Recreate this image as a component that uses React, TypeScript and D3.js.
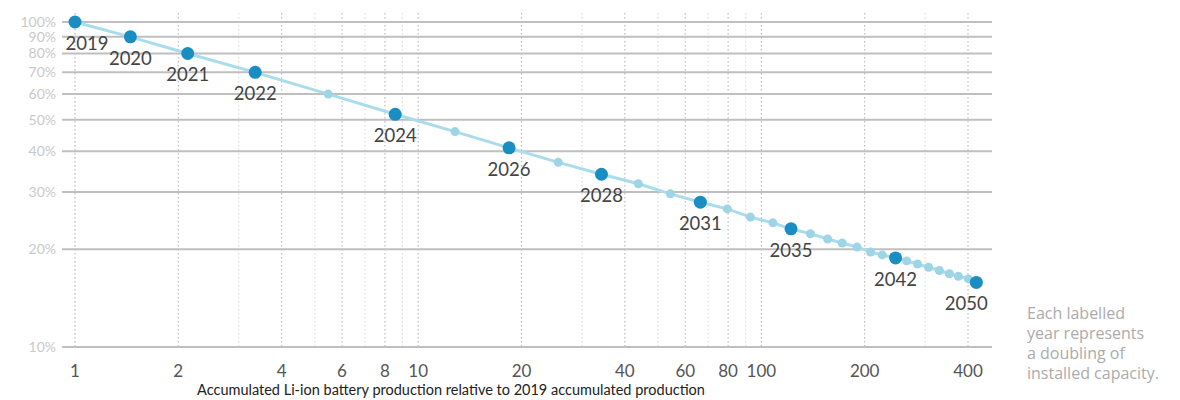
import React, { useRef, useEffect } from 'react';
import * as d3 from 'd3';

// years along the curve
const years = [
  2019, 2020, 2021, 2022, 2023, 2024, 2025, 2026, 2027, 2028, 2029, 2030, 2031, 2032, 2033, 2034,
  2035, 2036, 2037, 2038, 2039, 2040, 2041, 2042, 2043, 2044, 2045, 2046, 2047, 2048, 2049, 2050
];
// accumulated production relative to 2019
const production = [
  1, 1.45, 2.13, 3.35, 5.47, 8.57, 12.8, 18.4, 25.6, 34.2, 43.8, 54.3, 66.4, 79.6, 92.9, 108,
  122, 139, 156, 172, 190, 208, 225, 246, 265, 285, 307, 330, 353, 375, 401, 423
];
// cost share relative to 2019
const share = [
  1.0, 0.9, 0.8, 0.7, 0.6, 0.52, 0.46, 0.41, 0.37, 0.34, 0.318, 0.296, 0.279, 0.266, 0.251, 0.241,
  0.231, 0.223, 0.215, 0.209, 0.203, 0.196, 0.192, 0.188, 0.184, 0.18, 0.176, 0.172, 0.168, 0.165, 0.162, 0.158
];
const labelledYears = [2019, 2020, 2021, 2022, 2024, 2026, 2028, 2031, 2035, 2042, 2050];

const yTicks = [0.1, 0.2, 0.3, 0.4, 0.5, 0.6, 0.7, 0.8, 0.9, 1.0];
const xGrid = [1, 2, 3, 4, 5, 6, 7, 8, 9, 10, 20, 30, 40, 50, 60, 70, 80, 90, 100, 200, 300, 400];
const xTickLabels = [1, 2, 4, 6, 8, 10, 20, 40, 60, 80, 100, 200, 400];
const noteLines = ["Each labelled", "year represents", "a doubling of", "installed capacity."];
const axisTitle = "Accumulated Li-ion battery production relative to 2019 accumulated production";

const App: React.FC = () => {
  const svgRef = useRef<SVGSVGElement | null>(null);

  useEffect(() => {
    const svg = d3.select(svgRef.current);
    svg.selectAll("*").remove();

    const width = 1180;
    const height = 400;
    const font = "Lato, 'Open Sans', sans-serif";

    svg.attr("width", width).attr("height", height);

    const x = d3.scaleLog().domain([1, 400]).range([75, 968]);
    const y = d3.scaleLog().domain([0.1, 1]).range([347, 22]);

    // vertical dotted gridlines
    svg.append("g")
      .selectAll("line")
      .data(xGrid)
      .join("line")
      .attr("x1", d => x(d))
      .attr("x2", d => x(d))
      .attr("y1", 13)
      .attr("y2", y(0.1))
      .attr("stroke", d => xTickLabels.includes(d) ? "#bdbdbd" : "#dedede")
      .attr("stroke-width", 1.2)
      .attr("stroke-dasharray", "1.5,2.5");

    // horizontal gridlines
    svg.append("g")
      .selectAll("line")
      .data(yTicks)
      .join("line")
      .attr("x1", 62)
      .attr("x2", 992)
      .attr("y1", d => y(d))
      .attr("y2", d => y(d))
      .attr("stroke", "#bfbfbf")
      .attr("stroke-width", 2);

    // y labels (squeezed at the top, as in the original)
    svg.append("g")
      .selectAll("text")
      .data(yTicks)
      .join("text")
      .attr("x", 56)
      .attr("y", d => y(d))
      .attr("dy", "0.35em")
      .attr("text-anchor", "end")
      .attr("font-family", font)
      .attr("font-size", 14)
      .attr("fill", "#c9c9c9")
      .text(d => `${Math.round(d * 100)}%`);

    // x labels
    svg.append("g")
      .selectAll("text")
      .data(xTickLabels)
      .join("text")
      .attr("x", d => x(d))
      .attr("y", 377)
      .attr("text-anchor", "middle")
      .attr("font-family", font)
      .attr("font-size", 17)
      .attr("fill", "#555")
      .text(d => d);

    svg.append("text")
      .attr("x", 451)
      .attr("y", 395)
      .attr("text-anchor", "middle")
      .attr("font-family", font)
      .attr("font-size", 14.5)
      .attr("fill", "#222")
      .text(axisTitle);

    const data = years.map((yr, i) => ({ year: yr, px: production[i], s: share[i] }));

    // trend line
    svg.append("path")
      .datum(data)
      .attr("fill", "none")
      .attr("stroke", "#a9dcec")
      .attr("stroke-width", 3)
      .attr("d", d3.line<{ px: number; s: number }>().x(d => x(d.px)).y(d => y(d.s)));

    // minor year dots
    svg.append("g")
      .selectAll("circle")
      .data(data.filter(d => !labelledYears.includes(d.year)))
      .join("circle")
      .attr("cx", d => x(d.px))
      .attr("cy", d => y(d.s))
      .attr("r", 4.5)
      .attr("fill", "#9ed5e6");

    // labelled year dots
    const lab = data.filter(d => labelledYears.includes(d.year));
    svg.append("g")
      .selectAll("circle")
      .data(lab)
      .join("circle")
      .attr("cx", d => x(d.px))
      .attr("cy", d => y(d.s))
      .attr("r", 6.5)
      .attr("fill", "#1a8dc2");

    svg.append("g")
      .selectAll("text")
      .data(lab)
      .join("text")
      .attr("x", d => x(d.px) + (d.year === 2019 ? 12 : d.year === 2050 ? -10 : 0))
      .attr("y", d => y(d.s) + 28)
      .attr("text-anchor", "middle")
      .attr("font-family", font)
      .attr("font-size", 18.5)
      .attr("fill", "#444")
      .text(d => d.year);

    // note
    svg.append("g")
      .selectAll("text")
      .data(noteLines)
      .join("text")
      .attr("x", 1027)
      .attr("y", (d, i) => 319 + i * 20)
      .attr("font-family", "'Open Sans', Lato, sans-serif")
      .attr("font-size", 16)
      .attr("fill", "#ababab")
      .text(d => d);
  }, []);

  return (
    <div style={{ position: "absolute", left: 0, top: 0 }}>
      <style>{`body{margin:0}`}</style>
      <svg ref={svgRef}></svg>
    </div>
  );
};

export default App;
